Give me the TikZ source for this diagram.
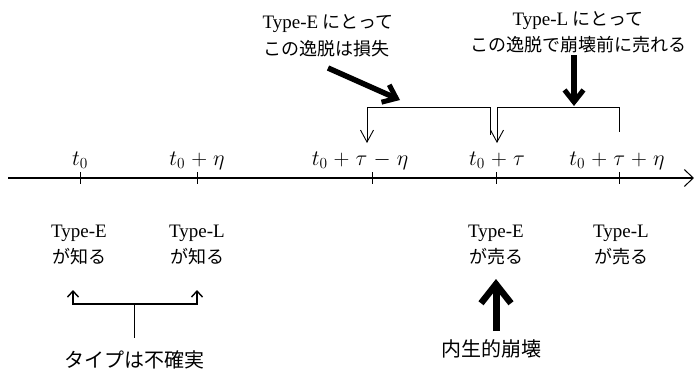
\RequirePackage{fix-cm}
\documentclass[tikz,border=0pt]{standalone}
\usepackage{fontspec}
\setmainfont{Liberation Serif}
\newfontfamily\jp{Noto Sans CJK JP}
\usetikzlibrary{arrows.meta}
\newcommand\tlab[1]{$\medmuskip=5mu\relax #1$}
\begin{document}
\begin{tikzpicture}[x=1pt,y=-1pt,
  lbl/.style={inner sep=0pt,anchor=base,font=\fontsize{19}{22}\selectfont},
  jlbl/.style={inner sep=0pt,anchor=base,font=\fontsize{18}{22}\selectfont\jp},
  jbig/.style={inner sep=0pt,anchor=base,font=\fontsize{20}{24}\selectfont\jp},
  mlbl/.style={inner sep=0pt,anchor=base,font=\fontsize{22}{24}\selectfont},
  axisline/.style={line width=1.3pt,-{Straight Barb[length=9pt,width=17pt,line width=1pt]}},
  tick/.style={line width=0.6pt},
  bracket/.style={line width=0.9pt},
  thinarrow/.style={line width=0.9pt,{Straight Barb[length=12pt,width=13pt]}-},
  thick arrow/.style={line width=5.5pt,-{Straight Barb[length=12pt,width=19pt,line width=5pt]}},
  big arrow/.style={line width=7pt,-{Straight Barb[length=19pt,width=30pt,line width=6.5pt]}}
]
\useasboundingbox (0,0) rectangle (694,373);

% axis
\coordinate (axL) at (8,178);
\coordinate (axR) at (694,178);
\draw[axisline] (axL) -- (axR);

% ticks
\foreach \n/\x in {a/80,b/197,c/372,d/496,e/619}{
  \coordinate (t\n top) at (\x,172);
  \coordinate (t\n bot) at (\x,184);
  \draw[tick] (t\n top) -- (t\n bot);
}

% tick labels
\node[mlbl] (la) at (80,165) {\tlab{t_0}};
\node[mlbl] (lb) at (197,165) {\tlab{t_0+\eta}};
\node[mlbl] (lc) at (360,165) {\tlab{t_0+\tau-\eta}};
\node[mlbl] (ld) at (497,165) {\tlab{t_0+\tau}};
\node[mlbl] (le) at (617,165) {\tlab{t_0+\tau+\eta}};

% top texts
\node[lbl] (eTop1) at (328,28) {Type-E {\jp\fontsize{18}{22}\selectfont にとって}};
\node[jlbl] (eTop2) at (326,55) {この逸脱は損失};
\node[lbl] (lTop1) at (578,25) {Type-L {\jp\fontsize{18}{22}\selectfont にとって}};
\node[jlbl] (lTop2) at (578,51) {この逸脱で崩壊前に売れる};

% brackets above axis
\coordinate (eB1) at (367,143);
\coordinate (eB2) at (367,107);
\coordinate (eB3) at (490,107);
\coordinate (eB4) at (490,135);
\draw[bracket,thinarrow] (eB1) -- (eB2) -- (eB3) -- (eB4);
\coordinate (lB1) at (497,143);
\coordinate (lB2) at (497,107);
\coordinate (lB3) at (619,107);
\coordinate (lB4) at (619,132);
\draw[bracket,thinarrow] (lB1) -- (lB2) -- (lB3) -- (lB4);

% thick arrows
\coordinate (eArrS) at (328,68);
\coordinate (eArrE) at (400,100);
\draw[thick arrow] (eArrS) -- (eArrE);
\coordinate (lArrS) at (574,55);
\coordinate (lArrE) at (574,106);
\draw[thick arrow] (lArrS) -- (lArrE);

% bottom labels
\node[lbl] (bE1) at (79,237) {Type-E};
\node[jlbl] (bE2) at (79,263) {が知る};
\node[lbl] (bL1) at (197,237) {Type-L};
\node[jlbl] (bL2) at (197,263) {が知る};
\node[lbl] (sE1) at (496,237) {Type-E};
\node[jlbl] (sE2) at (496,263) {が売る};
\node[lbl] (sL1) at (621,237) {Type-L};
\node[jlbl] (sL2) at (621,263) {が売る};

% bottom-left bracket
\coordinate (uB1) at (73,304);
\coordinate (uB1t) at (73,290);
\coordinate (uB2) at (197,304);
\coordinate (uB2t) at (197,290);
\coordinate (uM) at (134,304);
\coordinate (uMb) at (134,338);
\draw[line width=1.4pt,{Straight Barb[length=6pt,width=11pt]}-{Straight Barb[length=6pt,width=11pt]}] (uB1t) -- (uB1) -- (uB2) -- (uB2t);
\draw[line width=0.6pt] (uM) -- (uMb);
\node[jbig] (unc) at (134,367) {タイプは不確実};

% endogenous collapse arrow
\coordinate (cS) at (496,331);
\coordinate (cE) at (496,279);
\draw[big arrow] (cS) -- (cE);
\node[jbig] (coll) at (491,356) {内生的崩壊};
\end{tikzpicture}
\end{document}
